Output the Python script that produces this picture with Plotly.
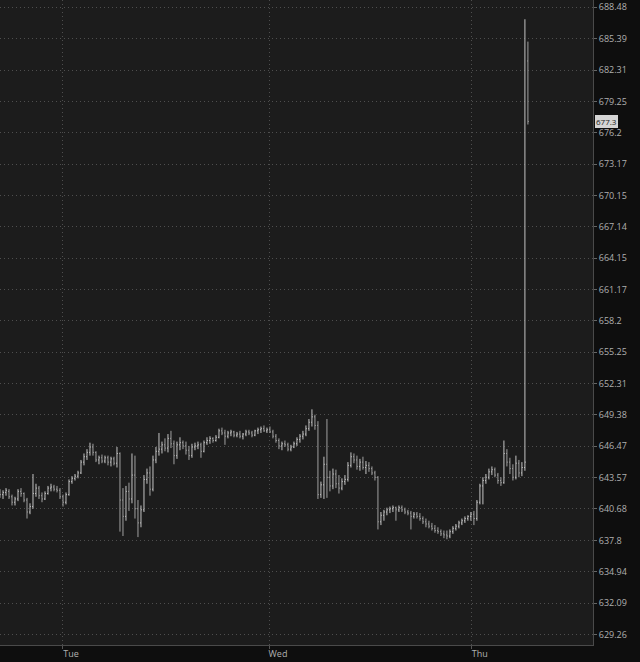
import math
import plotly.graph_objects as go

# ---- data ----
opens = [642.3, 642.0, 642.2, 642.3, 641.8, 641.3, 641.6, 642.3, 642.1, 641.5,
         640.4, 640.9, 642.1, 642.6, 641.9, 641.6, 642.1, 642.6, 642.7, 642.5,
         642.4, 641.8, 641.3, 642.0, 643.2, 643.5, 643.7, 644.0, 645.0, 645.5,
         645.9, 646.4, 645.9, 645.2, 645.4, 645.1, 645.4, 645.0, 645.3, 644.9,
         645.8, 641.5, 640.0, 642.3, 641.6, 643.8, 640.7, 639.4, 640.6, 643.4,
         644.0, 642.5, 645.2, 646.0, 646.2, 646.6, 646.3, 647.2, 646.7, 645.6,
         646.6, 646.8, 646.5, 646.1, 645.6, 646.4, 646.5, 646.6, 646.0, 646.8,
         647.0, 647.2, 647.0, 647.3, 647.9, 647.7, 647.4, 647.7, 647.8, 647.5,
         647.6, 647.4, 647.6, 647.8, 647.7, 647.5, 647.9, 648.0, 648.1, 647.9,
         648.0, 647.8, 647.4, 647.0, 646.5, 646.7, 646.6, 646.2, 646.4, 646.7,
         647.1, 647.4, 647.6, 648.1, 648.7, 649.2, 648.4, 642.0, 642.9, 644.8,
         643.6, 642.8, 643.9, 643.0, 642.6, 643.2, 643.4, 644.7, 645.5, 645.2,
         644.6, 645.0, 644.5, 644.7, 644.4, 644.0, 643.6, 639.5, 640.1, 640.4,
         640.6, 640.7, 640.8, 640.6, 640.8, 640.6, 640.4, 640.3, 640.0, 640.2,
         640.0, 639.8, 639.5, 639.3, 639.1, 638.9, 638.7, 638.6, 638.4, 638.3,
         638.2, 638.6, 638.9, 639.1, 639.4, 639.6, 639.8, 640.0, 640.2, 639.8,
         641.3, 642.8, 643.3, 643.6, 644.1, 644.3, 643.8, 643.3, 643.1, 645.8,
         645.0, 644.4, 643.6, 644.9, 644.0, 644.5, 683.2]
highs = [642.5, 642.4, 642.6, 642.5, 642.0, 641.8, 642.5, 642.6, 642.2, 641.7,
         641.2, 643.9, 643.0, 642.8, 642.2, 642.3, 642.8, 643.0, 642.9, 642.8,
         642.6, 642.0, 642.2, 643.4, 643.7, 643.9, 644.2, 645.2, 645.8, 646.2,
         646.8, 646.7, 646.0, 645.6, 645.7, 645.6, 645.6, 645.5, 645.5, 646.4,
         645.9, 642.6, 642.8, 643.1, 645.8, 645.6, 641.5, 641.0, 643.8, 644.4,
         644.6, 645.6, 646.4, 647.7, 646.9, 647.2, 647.6, 647.9, 647.0, 646.9,
         647.3, 647.0, 646.9, 646.5, 646.7, 646.8, 646.9, 646.8, 647.0, 647.3,
         647.4, 647.3, 647.5, 648.1, 648.2, 648.0, 647.9, 648.0, 647.9, 647.8,
         647.9, 647.7, 648.0, 648.0, 647.9, 648.0, 648.2, 648.3, 648.4, 648.2,
         648.3, 648.0, 647.6, 647.2, 646.9, 647.0, 646.8, 646.6, 646.9, 647.3,
         647.6, 647.9, 648.4, 649.0, 649.9, 649.4, 648.8, 643.2, 645.5, 649.0,
         644.2, 644.4, 644.3, 643.8, 643.5, 643.8, 645.0, 645.9, 645.8, 645.6,
         645.3, 645.5, 645.1, 645.0, 644.6, 644.2, 643.7, 640.4, 640.6, 640.8,
         640.9, 641.0, 640.9, 641.0, 641.0, 640.8, 640.6, 640.5, 640.4, 640.4,
         640.3, 640.0, 639.8, 639.6, 639.4, 639.2, 639.0, 638.8, 638.7, 638.7,
         638.8, 639.1, 639.3, 639.6, 639.8, 640.0, 640.1, 640.4, 640.5, 641.5,
         643.0, 643.6, 643.9, 644.4, 644.6, 644.5, 644.0, 643.6, 647.0, 646.2,
         645.4, 644.8, 645.6, 645.2, 645.0, 687.3, 685.1]
lows = [641.7, 641.6, 641.9, 641.6, 641.0, 641.0, 641.4, 641.8, 641.3, 639.8,
        640.2, 640.7, 641.8, 641.6, 641.3, 641.5, 642.0, 642.3, 642.3, 642.2,
        641.6, 640.9, 641.1, 641.9, 643.0, 643.3, 643.5, 643.9, 644.7, 645.2,
        645.6, 645.6, 645.0, 644.8, 644.9, 644.9, 644.7, 644.6, 644.7, 644.5,
        638.6, 638.2, 639.6, 640.5, 641.2, 639.8, 638.1, 639.0, 640.4, 643.0,
        641.9, 642.3, 644.9, 645.6, 645.8, 646.0, 645.9, 646.3, 644.8, 645.3,
        646.1, 646.2, 645.7, 645.2, 645.4, 646.1, 646.2, 645.4, 645.9, 646.6,
        646.7, 646.8, 646.9, 647.2, 647.5, 646.6, 647.2, 647.4, 647.3, 647.3,
        647.2, 647.1, 647.4, 647.5, 647.3, 647.4, 647.6, 647.7, 647.8, 647.7,
        647.7, 647.2, 646.8, 646.2, 646.1, 646.4, 646.0, 646.0, 646.3, 646.5,
        646.8, 647.1, 647.4, 647.9, 648.3, 648.0, 641.6, 641.7, 641.6, 641.7,
        642.3, 642.5, 642.6, 642.1, 642.4, 642.9, 643.2, 644.5, 644.9, 644.3,
        644.2, 644.3, 643.9, 644.1, 643.8, 643.3, 638.8, 639.2, 639.6, 640.1,
        640.3, 640.4, 639.6, 640.4, 640.4, 640.2, 640.1, 638.8, 639.8, 639.8,
        639.6, 639.3, 639.0, 638.9, 638.7, 638.5, 638.4, 638.2, 638.0, 637.9,
        638.0, 638.4, 638.7, 638.9, 639.2, 639.4, 639.6, 639.6, 639.2, 639.6,
        641.1, 641.1, 643.0, 643.4, 643.8, 643.6, 643.0, 642.8, 643.0, 644.6,
        643.9, 643.3, 643.4, 643.6, 643.7, 644.2, 677.0]
closes = [642.0, 642.2, 642.4, 641.8, 641.3, 641.6, 642.3, 642.1, 641.5, 640.4,
          640.9, 642.1, 642.6, 641.9, 641.6, 642.1, 642.6, 642.7, 642.5, 642.4,
          641.8, 641.3, 642.0, 643.2, 643.5, 643.7, 644.0, 645.0, 645.5, 645.9,
          646.4, 645.9, 645.2, 645.4, 645.1, 645.4, 645.0, 645.3, 644.9, 645.8,
          641.5, 640.0, 642.3, 641.6, 643.8, 640.7, 639.4, 640.6, 643.4, 644.0,
          642.5, 645.2, 646.0, 646.2, 646.6, 646.3, 647.2, 646.7, 645.6, 646.6,
          646.8, 646.5, 646.1, 645.6, 646.4, 646.5, 646.6, 646.0, 646.8, 647.0,
          647.2, 647.0, 647.3, 647.9, 647.7, 647.4, 647.7, 647.8, 647.5, 647.6,
          647.4, 647.6, 647.8, 647.7, 647.5, 647.9, 648.0, 648.1, 647.9, 648.0,
          647.8, 647.4, 647.0, 646.5, 646.7, 646.6, 646.2, 646.4, 646.7, 647.1,
          647.4, 647.6, 648.1, 648.7, 649.2, 648.4, 642.0, 642.9, 644.8, 643.6,
          642.8, 643.9, 643.0, 642.6, 643.2, 643.4, 644.7, 645.5, 645.2, 644.6,
          645.0, 644.5, 644.7, 644.4, 644.0, 643.6, 639.5, 640.1, 640.4, 640.6,
          640.7, 640.8, 640.6, 640.8, 640.6, 640.4, 640.3, 640.0, 640.2, 640.0,
          639.8, 639.5, 639.3, 639.1, 638.9, 638.7, 638.6, 638.4, 638.3, 638.2,
          638.6, 638.9, 639.1, 639.4, 639.6, 639.8, 640.0, 640.2, 639.8, 641.3,
          642.8, 643.3, 643.6, 644.1, 644.3, 643.8, 643.3, 643.1, 645.8, 645.0,
          644.4, 643.6, 644.9, 644.0, 644.5, 645.0, 677.3]
bar_index = list(range(len(closes)))

day_labels = ["Tue", "Wed", "Thu"]
day_positions = [21, 90, 157.3]

price_ticks = [629.26, 632.09, 634.94, 637.8, 640.68, 643.57, 646.47, 649.38,
               652.31, 655.25, 658.2, 661.17, 664.15, 667.14, 670.15, 673.17,
               676.2, 679.25, 682.31, 685.39, 688.48]
price_tick_text = ["629.26", "632.09", "634.94", "637.8", "640.68", "643.57",
                   "646.47", "649.38", "652.31", "655.25", "658.2", "661.17",
                   "664.15", "667.14", "670.15", "673.17", "676.2", "679.25",
                   "682.31", "685.39", "688.48"]
last_price = 677.3

# ---- figure ----
fig = go.Figure(go.Ohlc(
    x=bar_index, open=opens, high=highs, low=lows, close=closes,
    increasing=dict(line=dict(color="#c4c4c4", width=1)),
    decreasing=dict(line=dict(color="#a0a0a0", width=1)),
    tickwidth=0.3, hoverinfo="skip", showlegend=False,
))

fig.update_layout(
    width=640, height=662,
    margin=dict(l=0, r=47, t=0, b=17, pad=0),
    paper_bgcolor="#0e0e0e",
    plot_bgcolor="#1c1c1c",
    font=dict(family="Open Sans, DejaVu Sans, sans-serif", color="#b0b0b0", size=9),
    showlegend=False,
    hovermode=False,
)

grid_style = dict(showgrid=True, gridcolor="#4e4e4e", griddash="1px,3px", gridwidth=1)

fig.update_xaxes(
    range=[0, 197.7],
    rangeslider=dict(visible=False),
    tickmode="array", tickvals=day_positions, ticktext=day_labels,
    ticks="outside", ticklen=3, tickcolor="#555555",
    ticklabelshift=8, ticklabelstandoff=-3,
    showline=True, linecolor="#4a4a4a", linewidth=1,
    zeroline=False,
    tickfont=dict(size=9, color="#b0b0b0"),
    automargin=False,
    **grid_style,
)

fig.update_yaxes(
    type="log",
    range=[math.log10(628.3), math.log10(689.2)],
    side="right",
    tickmode="array", tickvals=price_ticks, ticktext=price_tick_text,
    ticks="outside", ticklen=3, tickcolor="#666666",
    showline=True, linecolor="#4a4a4a", linewidth=1,
    zeroline=False,
    tickfont=dict(size=9, color="#b0b0b0"),
    automargin=False,
    **grid_style,
)

fig.add_annotation(
    xref="paper", yref="y", x=1, y=math.log10(last_price),
    xanchor="left", yanchor="middle", xshift=2,
    text=str(last_price), showarrow=False,
    font=dict(size=8, color="#222222"),
    bgcolor="#d4d4d4", borderpad=0, bordercolor="#d4d4d4", borderwidth=1,
)

fig.write_html(
    "out.html",
    config={"displayModeBar": False, "staticPlot": True},
    post_script="document.body.style.margin='0';document.body.style.overflow='hidden';",
)
